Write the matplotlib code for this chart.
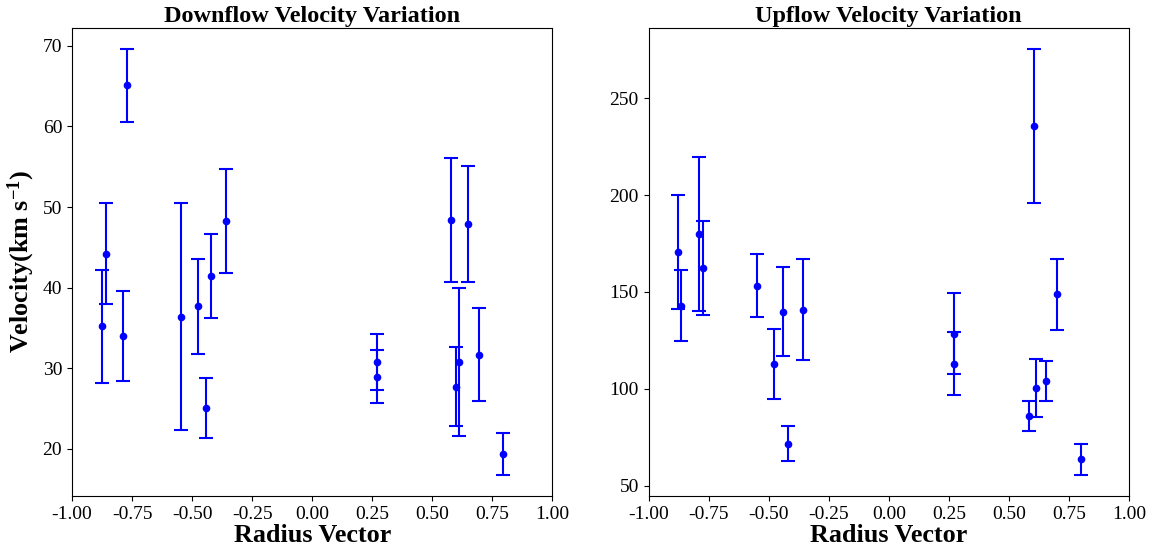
import numpy as np
import matplotlib
matplotlib.use('Agg')
import matplotlib.pyplot as plt

# downflow data (radius vector, velocity, error)
down_r = [-0.873, -0.860, -0.772, -0.786, -0.546, -0.474, -0.440, -0.420, -0.357,
          0.268, 0.268, 0.577, 0.649, 0.599, 0.611, 0.693, 0.795]
down_v = [35.2, 44.2, 65.1, 34.0, 36.4, 37.7, 25.1, 41.4, 48.3,
          30.8, 28.95, 48.4, 47.9, 27.7, 30.8, 31.7, 19.4]
down_err = [7.05, 6.25, 4.5, 5.55, 14.05, 5.9, 3.7, 5.2, 6.45,
            3.45, 3.3, 7.7, 7.2, 4.9, 9.2, 5.8, 2.6]

# upflow data
up_r = [-0.876, -0.864, -0.788, -0.774, -0.547, -0.476, -0.440, -0.420, -0.357,
        0.271, 0.271, 0.603, 0.582, 0.614, 0.653, 0.699, 0.799]
up_v = [170.6, 142.9, 179.9, 162.5, 153.2, 112.9, 139.7, 71.6, 140.9,
        128.5, 113.0, 235.6, 85.9, 100.2, 103.8, 148.8, 63.6]
up_err = [29.6, 18.4, 39.8, 24.2, 16.3, 18.1, 23.0, 9.0, 25.9,
          21.0, 16.2, 39.8, 8.0, 15.0, 10.3, 18.3, 8.0]

xticks = np.arange(-1.0, 1.01, 0.25)

matplotlib.rcParams['font.family'] = 'Liberation Serif'
matplotlib.rcParams['mathtext.fontset'] = 'custom'
matplotlib.rcParams['mathtext.rm'] = 'Liberation Serif:bold'
matplotlib.rcParams['mathtext.it'] = 'Liberation Serif:bold'
matplotlib.rcParams['mathtext.bf'] = 'Liberation Serif:bold'
matplotlib.rcParams['axes.unicode_minus'] = False

fig, axs = plt.subplots(1, 2, figsize=(11.57, 5.56), dpi=100)
fig.subplots_adjust(left=0.0622, right=0.9758, bottom=0.108, top=0.950, wspace=0.2)

panels = [
    (axs[0], down_r, down_v, down_err, 'Downflow Velocity Variation'),
    (axs[1], up_r, up_v, up_err, 'Upflow Velocity Variation'),
]
for ax, r, v, e, title in panels:
    ax.errorbar(r, v, yerr=e, fmt='o', color='b', ecolor='b',
                markersize=4.5, elinewidth=1.5, capsize=5, capthick=1.5)
    ax.set_xlim(-1, 1)
    ax.set_xticks(xticks)
    ax.set_xticklabels(['%.2f' % t for t in xticks])
    ax.tick_params(labelsize=14)
    ax.set_title(title, fontsize=17.5, fontweight='bold', pad=4)
    ax.set_xlabel('Radius Vector', fontsize=18.8, fontweight='bold', labelpad=1)

axs[0].set_ylabel('Velocity(km s$^{-1}$)', fontsize=18.8, fontweight='bold')

fig.savefig('out.png', dpi=100)
